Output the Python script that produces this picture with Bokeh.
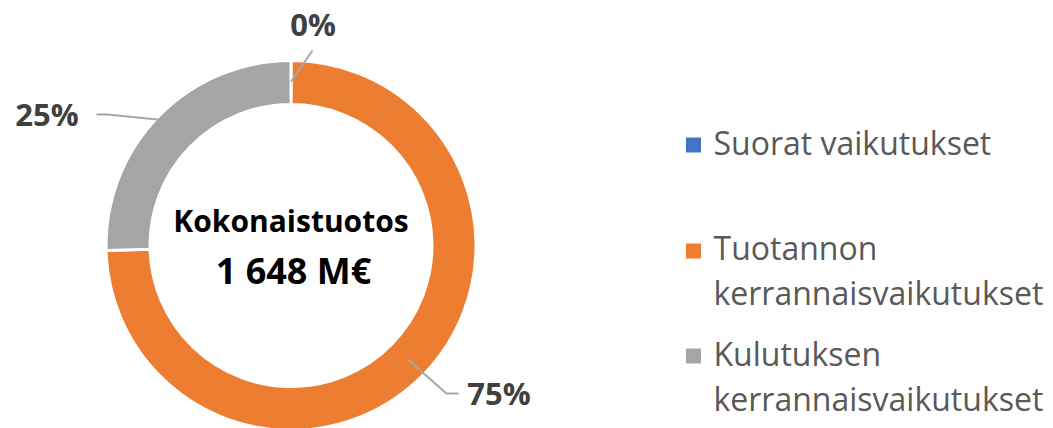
import numpy as np
from bokeh.plotting import figure
from bokeh.models import Range1d
from bokeh.core.properties import value
from bokeh.embed import file_html
from bokeh.resources import INLINE

# ---- data ----
categories = ["Suorat vaikutukset", "Tuotannon kerrannaisvaikutukset", "Kulutuksen kerrannaisvaikutukset"]
legend_lines = [["Suorat vaikutukset"], ["Tuotannon", "kerrannaisvaikutukset"], ["Kulutuksen", "kerrannaisvaikutukset"]]
values_meur = [0, 1229, 419]
colors = ["#4472C4", "#ED7D31", "#A5A5A5"]
center_title = "Kokonaistuotos"
unit = "M€"

total = sum(values_meur)
fracs = np.array(values_meur, dtype=float) / total
cum = np.concatenate([[0], np.cumsum(fracs)])
start_angles = np.pi / 2 - 2 * np.pi * cum[:-1]
end_angles = np.pi / 2 - 2 * np.pi * cum[1:]
mid_angles = (start_angles + end_angles) / 2
pct_labels = [f"{round(f * 100):.0f}%" for f in fracs]

W, H = 1053, 428
p = figure(width=W, height=H, output_backend="svg", toolbar_location=None,
           x_range=Range1d(0, W), y_range=Range1d(-H, 0),
           min_border=0, outline_line_color=None)
p.axis.visible = False
p.grid.visible = False
p.background_fill_color = "white"

FONT = value("Open Sans")
BASE_K = 0.4  # baseline calibration


def ty(baseline, fs):
    return -(baseline - BASE_K * fs)


cx, cy = 290.5, -245
r_in, r_out = 141, 185
p.annular_wedge(x=cx, y=cy, inner_radius=r_in, outer_radius=r_out,
                start_angle=start_angles, end_angle=end_angles, direction="clock",
                fill_color=colors, line_color="white", line_width=3)

# leader lines and labels (layout)
anchor_r = [164, 164, 180]
elbows = [None, (446, -393, 458, -393), (107, -114, 96, -114)]
label_pos = [(312.5, 36), (498.5, 405), (46.5, 126)]
label_end0 = (312, -50)
pfs = 31
for i in range(3):
    ax = cx + anchor_r[i] * np.cos(mid_angles[i])
    ay = cy + anchor_r[i] * np.sin(mid_angles[i])
    if elbows[i] is None:
        xs, ys = [ax, label_end0[0]], [ay, label_end0[1]]
    else:
        ex, ey, fx, fy = elbows[i]
        xs, ys = [ax, ex, fx], [ay, ey, fy]
    p.line(xs, ys, line_color="#A6A6A6", line_width=2)
    p.text(x=[label_pos[i][0]], y=[ty(label_pos[i][1], pfs)], text=[pct_labels[i]],
           text_font=FONT, text_font_style="bold", text_font_size=f"{pfs}px",
           text_color="#404040", text_align="center", text_baseline="alphabetic")

# center text
cfs1, cfs2 = 30, 36
total_str = f"{total:,}".replace(",", " ") + " " + unit
p.text(x=[cx], y=[ty(232, cfs1)], text=[center_title], text_font=FONT,
       text_font_style="bold", text_font_size=f"{cfs1}px", text_color="black",
       text_align="center", text_baseline="alphabetic")
p.text(x=[cx + 2.5], y=[ty(284, cfs2)], text=[total_str], text_font=FONT,
       text_font_style="bold", text_font_size=f"{cfs2}px", text_color="black",
       text_align="center", text_baseline="alphabetic")

# legend
lfs = 32
sq_y = [-144.5, -250.5, -355.5]
first_base = [155, 260, 366]
line_gap = 45
p.rect(x=[693] * 3, y=sq_y, width=15, height=15, fill_color=colors, line_color=None)
for i, lines in enumerate(legend_lines):
    for j, t in enumerate(lines):
        p.text(x=[713], y=[ty(first_base[i] + j * line_gap, lfs)], text=[t], text_font=FONT,
               text_font_size=f"{lfs}px", text_color="#595959", text_align="left",
               text_baseline="alphabetic")

open("out.html", "w").write(file_html(p, INLINE))
